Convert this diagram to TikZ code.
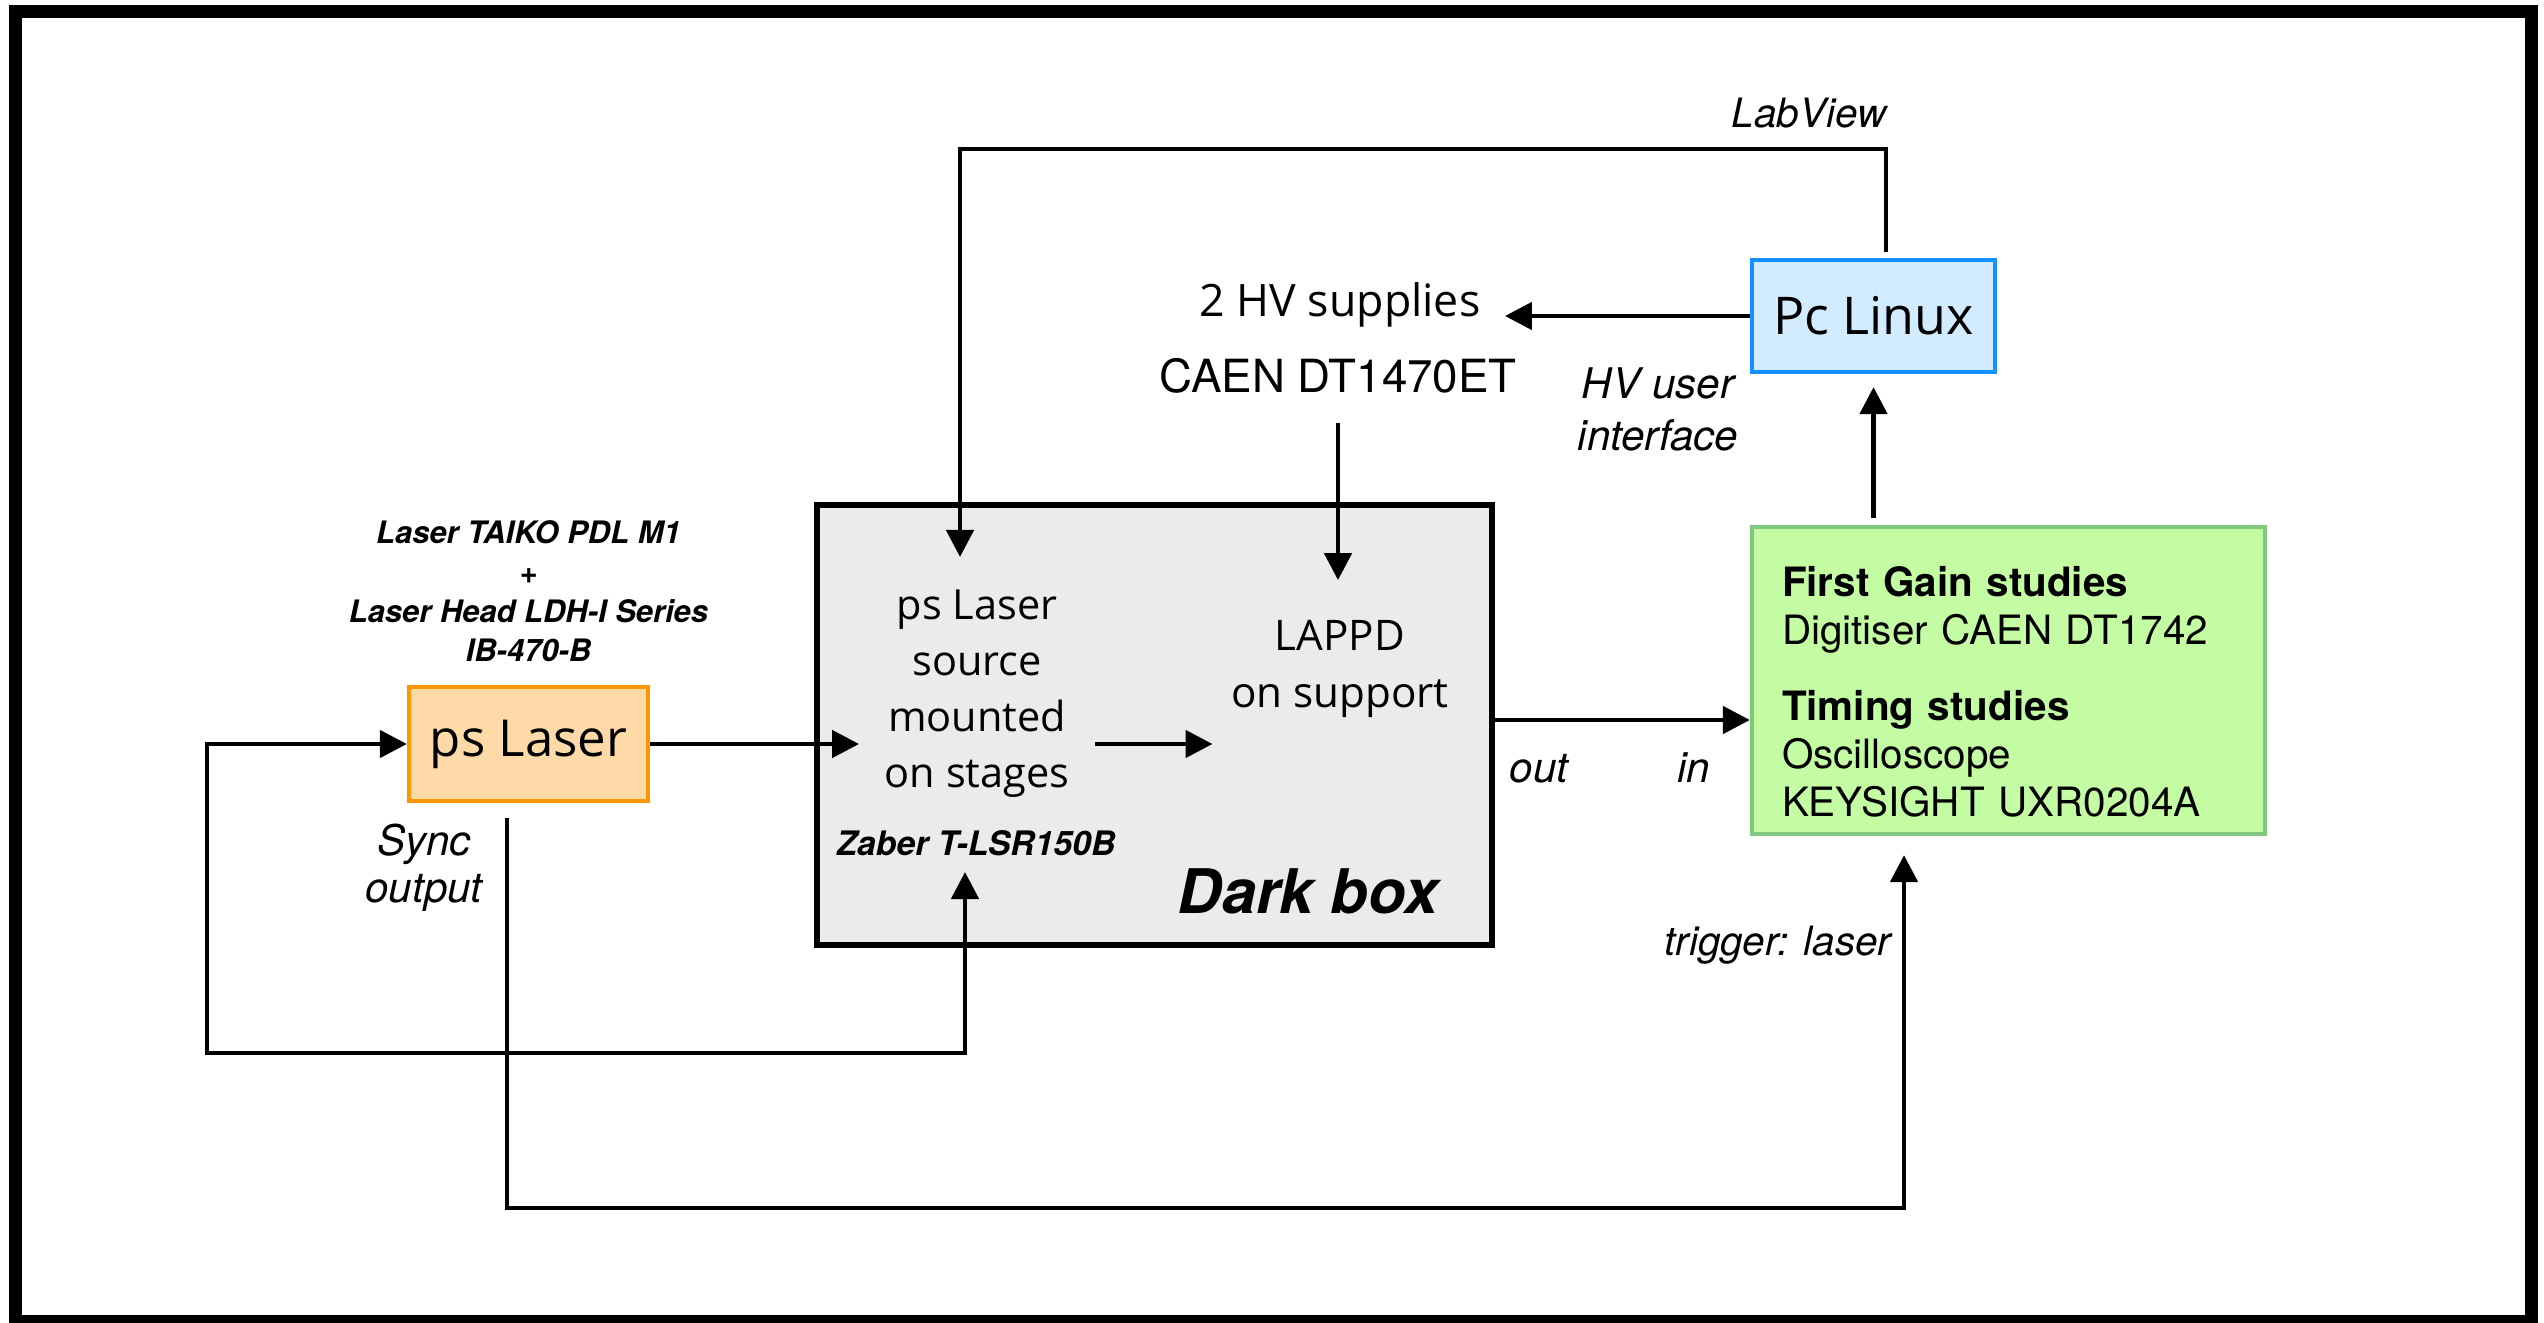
\documentclass[tikz,border=0pt]{standalone}
\usepackage{fontspec}
\setmainfont{TeX Gyre Heros}
\newfontfamily\osans{Open Sans}
\usepackage{tikz}
\usetikzlibrary{arrows.meta, positioning, calc}
\usepackage{xcolor}

\definecolor{laserfill}{RGB}{253,218,168}
\definecolor{laserline}{RGB}{255,150,0}
\definecolor{pcfill}{RGB}{210,235,255}
\definecolor{pcline}{RGB}{20,145,255}
\definecolor{gainfill}{RGB}{196,252,164}
\definecolor{gainline}{RGB}{128,200,128}
\definecolor{darkfill}{RGB}{235,235,235}

\begin{document}
\begin{tikzpicture}[
  box/.style={draw, rectangle, line width=1.2pt, inner sep=0pt},
  arr/.style={-{Triangle[length=2.7mm, width=2.7mm]}, line width=1.35pt},
  arrs/.style={{Triangle[length=2.7mm, width=2.7mm]}-{Triangle[length=2.7mm, width=2.7mm]}, line width=1.35pt},
  lbl/.style={inner sep=0pt, align=center, font=\itshape\fontsize{12}{14.8}\selectfont}
]
\useasboundingbox (0,0) rectangle (25.44,-13.23);
\draw[line width=0.13cm] (0.155,-0.115) rectangle (25.31,-13.215);

% boxes
\node[box, fill=laserfill, draw=laserline, minimum width=2.39cm, minimum height=1.14cm,
  font=\osans\fontsize{14.5}{17}\selectfont] (laser) at (5.285,-7.44) {ps Laser};
\node[draw, fill=darkfill, line width=1.5pt, minimum width=6.75cm, minimum height=4.40cm] (dark) at (11.545,-7.25) {};
\node[box, fill=pcfill, draw=pcline, minimum width=2.43cm, minimum height=1.12cm,
  font=\osans\fontsize{14.8}{17}\selectfont] (pc) at (18.735,-3.16) {Pc Linux};
\node[box, fill=gainfill, draw=gainline, minimum width=5.13cm, minimum height=3.07cm,
  text width=4.53cm, inner xsep=3mm, align=left, font=\fontsize{11.5}{13.7}\selectfont] (gain) at (20.085,-6.805)
  {\rule{0pt}{0.53cm}\textbf{First Gain studies}\\Digitiser CAEN DT1742\\[8pt]\textbf{Timing studies}\\Oscilloscope\\KEYSIGHT UXR0204A};

% texts
\node[above=0.22cm of laser, inner sep=0pt, align=center, font=\bfseries\itshape\fontsize{8.8}{11.2}\selectfont] (taiko)
  {Laser TAIKO PDL M1\\+\\Laser Head LDH-I Series\\IB-470-B};
\node[inner sep=2.5mm, align=center, font=\osans\fontsize{11.8}{15.9}\selectfont] (stages) at (9.77,-6.935)
  {ps Laser\\source\\mounted\\on stages};
\node[inner sep=0pt, font=\bfseries\itshape\fontsize{9.6}{11}\selectfont] (zaber) at (9.76,-8.43) {Zaber T-LSR150B};
\node[inner sep=0pt, align=center, font=\osans\fontsize{12}{16.2}\selectfont] (lappd) at (13.40,-6.685) {LAPPD\\on support};
\node[anchor=base, inner sep=0pt, font=\bfseries\itshape\fontsize{17.5}{20}\selectfont] (darklbl) at (13.08,-9.13) {Dark box};
\node[anchor=base, inner sep=0pt, font=\osans\fontsize{12.7}{15}\selectfont] (hv) at (13.40,-3.17) {2 HV supplies};
\node[anchor=base, inner sep=0pt, font=\fontsize{13}{15}\selectfont] (caen) at (13.38,-3.93) {CAEN DT1470ET};
\node[lbl] (hvui) at (16.58,-4.09) {HV user\\interface};
\node[lbl, anchor=base, font=\itshape\fontsize{11.5}{14}\selectfont] (labview) at (18.09,-1.28) {LabView};
\node[lbl, font=\itshape\fontsize{12}{13.4}\selectfont] (sync) at (4.24,-8.68) {Sync\\output};
\node[lbl, anchor=base] (out) at (15.39,-7.82) {out};
\node[lbl, anchor=base] (in) at (16.94,-7.82) {in};
\node[lbl, anchor=base east, font=\itshape\fontsize{11.5}{14}\selectfont] (trigger) at (18.92,-9.55) {trigger: laser};

\coordinate (lvC) at (9.60,-1.49);
\coordinate (lvIn) at (9.60,-5.57);
\coordinate (loopC) at (2.07,-10.53);
\coordinate (zabIn) at (9.65,-8.72);
\coordinate (trigC) at (19.04,-12.08);
\coordinate (sig) at (0,-7.20);

% connections
\draw[arr] (laser.east) -- (laser.east -| stages.west);
\draw[arr] (stages.east |- laser.east) -- ([xshift=-1.8mm]lappd.west |- laser.east);
\draw[arr] ([yshift=-2.8mm]caen.south) -- ([yshift=3.9mm]caen.south |- lappd.north);
\draw[arr] (pc.west) -- ([xshift=2.4mm]pc.west -| hv.east);
\draw[arr] ([yshift=0.7mm]pc.south |- gain.north) -- ([yshift=-1.3mm]pc.south);
\draw[arr] ([xshift=1.25mm,yshift=0.6mm]pc.north) |- (lvC) -- (lvIn);
\draw[arr] (dark.east |- sig) -- (gain.west |- sig);
\draw[arrs] (laser.west) -| (loopC) -| (zabIn);
\draw[arr] ([xshift=-2.15mm,yshift=-1.5mm]laser.south) |- (trigC) -- ([yshift=-1.9mm]trigC |- gain.south);
\end{tikzpicture}
\end{document}
